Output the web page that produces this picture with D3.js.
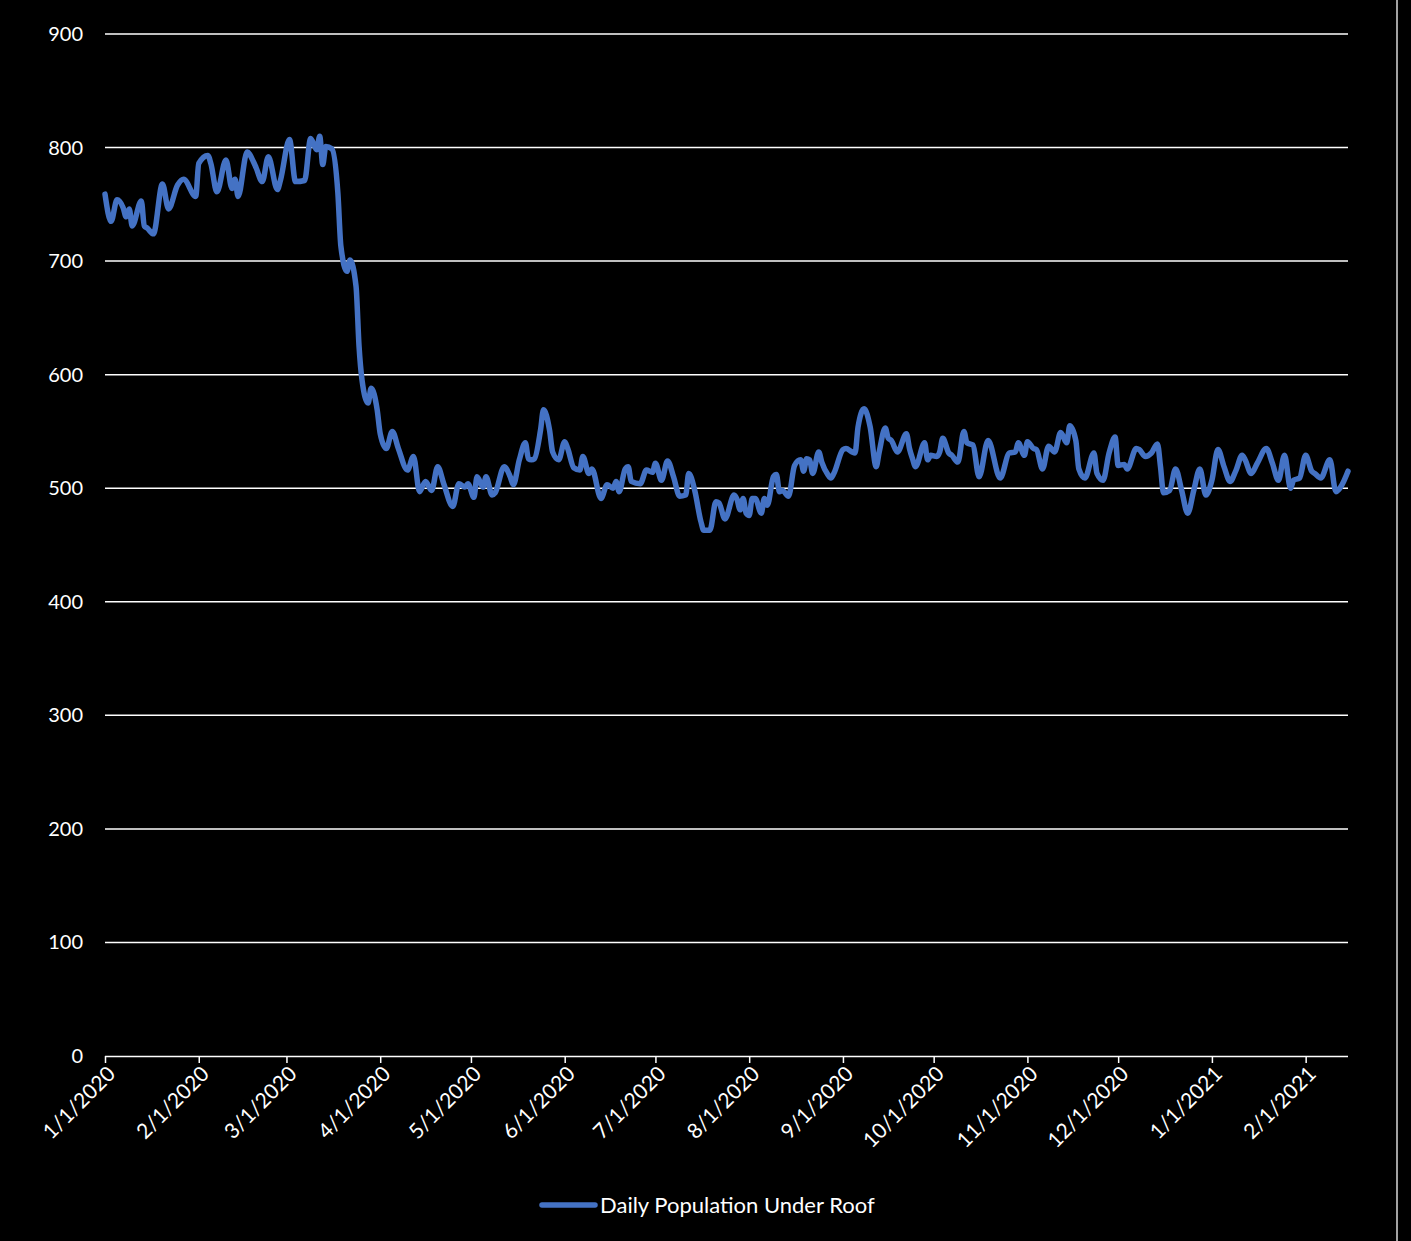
<!DOCTYPE html>
<html>
<head>
<meta charset="utf-8">
<script src="https://cdn.jsdelivr.net/npm/d3@7/dist/d3.min.js"></script>
<style>
  html, body { margin: 0; padding: 0; background: #000; }
  svg { display: block; }
</style>
</head>
<body>
<svg id="chart" width="1411" height="1241"></svg>
<script>
// ---- DATA ----
const startDate = "2020-01-01";
// day offsets since 1/1/2020
const dayOffsets = [0,2,4,6,7,8,9,12,13,14,16,19,21,24,26,30,31,34,35,37,40,42,43,44,47,49,50,52,54,57,58,61,63,66,68,70,71,72,73,75,77,78,80,81,83,84,85,87,88,90,91,93,95,97,100,102,104,106,108,110,112,115,117,119,120,122,123,125,126,128,129,132,134,135,137,139,140,141,142,144,145,147,148,150,152,153,155,157,158,160,161,164,166,168,169,170,172,173,174,177,179,181,182,184,186,188,190,192,193,195,197,198,200,202,203,205,208,209,210,211,212,213,214,215,217,218,219,221,222,223,224,226,228,230,231,232,233,234,236,237,239,240,241,244,245,247,248,249,251,253,255,256,258,259,260,262,265,266,267,268,271,272,273,275,276,277,279,280,282,284,285,287,289,292,296,299,301,302,304,305,307,308,310,312,314,316,318,319,321,322,324,327,328,330,332,334,335,337,338,341,342,344,346,348,349,350,352,354,356,358,360,362,364,366,368,370,372,374,376,377,379,381,384,386,388,390,392,393,395,397,399,400,402,405,407,408,409,411];
const population = [759,735,754,747,739,746,731,753,731,729,724,768,746,767,772,757,786,793,786,761,789,764,772,757,796,788,782,770,792,763,771,807,770,771,808,798,810,785,801,799,760,713,691,701,678,625,595,575,588,569,548,535,550,535,516,528,497,506,498,519,504,484,504,501,504,492,510,501,510,494,496,519,510,503,525,540,526,525,526,551,569,551,532,525,541,535,518,516,528,513,517,491,503,500,506,497,517,519,506,504,516,514,522,507,524,510,493,494,513,498,471,463,463,488,487,473,494,490,481,491,478,476,491,491,478,491,485,510,512,497,498,493,520,525,515,526,525,513,532,523,512,509,513,534,535,532,531,554,570,554,519,532,553,544,542,532,548,535,526,519,540,525,529,528,532,544,531,529,523,550,540,538,510,542,509,531,532,540,529,541,535,534,517,537,532,549,540,555,542,517,509,531,513,507,531,545,520,521,517,535,534,528,531,539,519,496,498,517,498,478,498,517,494,507,534,519,506,516,529,525,513,522,535,522,507,529,500,507,509,529,515,513,509,525,497,499,503,515];
const yTicks = [0,100,200,300,400,500,600,700,800,900];
const monthTicks = ["2020-01-01","2020-02-01","2020-03-01","2020-04-01","2020-05-01","2020-06-01","2020-07-01","2020-08-01","2020-09-01","2020-10-01","2020-11-01","2020-12-01","2021-01-01","2021-02-01"];
const endDate = "2021-02-15";
const seriesName = "Daily Population Under Roof";

// ---- CHART ----
(function () {
  const parse = d3.timeParse("%Y-%m-%d");
  const fmt = d => (d.getMonth()+1) + "/" + d.getDate() + "/" + d.getFullYear();
  const start = parse(startDate);
  const data = dayOffsets.map((o,i) => ({date: d3.timeDay.offset(start, o), value: population[i]}));

  const svg = d3.select("#chart");
  const font = "Lato, 'Open Sans', sans-serif";
  const pL = 105, pR = 1348, pT = 34, pB = 1056;

  const x = d3.scaleTime().domain([start, parse(endDate)]).range([pL, pR]);
  const y = d3.scaleLinear().domain([0, 900]).range([pB, pT]);

  svg.append("rect").attr("width", 1411).attr("height", 1241).attr("fill", "#000");

  // right border
  svg.append("line").attr("x1", 1397).attr("x2", 1397).attr("y1", 0).attr("y2", 1241)
    .attr("stroke", "#d9d9d9").attr("stroke-width", 1.5);

  // gridlines
  svg.append("g").selectAll("line").data(yTicks.filter(t => t > 0)).join("line")
    .attr("x1", pL).attr("x2", pR)
    .attr("y1", d => y(d)).attr("y2", d => y(d))
    .attr("stroke", "#ffffff").attr("stroke-width", 1.5);

  // y labels
  svg.append("g").selectAll("text").data(yTicks).join("text")
    .attr("x", 83).attr("y", d => y(d)).attr("dy", "0.35em")
    .attr("text-anchor", "end").attr("fill", "#fff")
    .attr("font-family", font).attr("font-size", 20)
    .text(d => d);

  // x axis
  const xAxis = d3.axisBottom(x)
    .tickValues(monthTicks.map(parse))
    .tickSize(7).tickFormat(fmt);
  const gx = svg.append("g").attr("transform", `translate(0,${pB})`).call(xAxis);
  gx.select(".domain").attr("stroke", "#fff").attr("stroke-width", 1.5)
    .attr("d", `M${pL},0.5H${pR}`);
  gx.selectAll(".tick line").attr("stroke", "#fff").attr("stroke-width", 1.5);
  gx.selectAll(".tick text")
    .attr("fill", "#fff").attr("font-family", font).attr("font-size", 21)
    .attr("text-anchor", "end")
    .attr("x", 0).attr("y", 0)
    .attr("transform", "translate(6,14) rotate(-45)")
    .attr("dy", "0.35em").attr("dx", "0");

  // line
  const line = d3.line().x(d => x(d.date)).y(d => y(d.value)).curve(d3.curveMonotoneX);
  svg.append("path").datum(data)
    .attr("d", line).attr("fill", "none")
    .attr("stroke", "#4472C4").attr("stroke-width", 5.5)
    .attr("stroke-linejoin", "round").attr("stroke-linecap", "round");

  // legend
  const lg = svg.append("g").attr("transform", "translate(0,1205)");
  lg.append("line").attr("x1", 542).attr("x2", 595).attr("y1", 0).attr("y2", 0)
    .attr("stroke", "#4472C4").attr("stroke-width", 5.5).attr("stroke-linecap", "round");
  lg.append("text").attr("x", 600).attr("y", 0).attr("dy", "0.35em")
    .attr("fill", "#fff").attr("font-family", font).attr("font-size", 22)
    .text(seriesName);
})();
</script>
</body>
</html>
